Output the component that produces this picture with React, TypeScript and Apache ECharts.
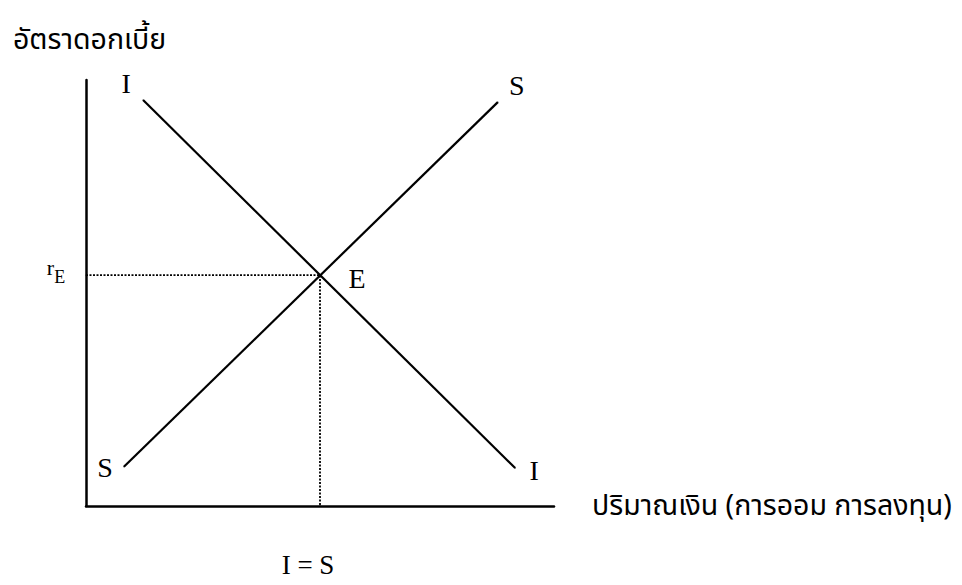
import React, { useEffect, useRef } from "react";
import * as echarts from "echarts";

// Investment (I) and saving (S) schedules: [quantity, interest rate]
const investmentCurve: [number, number][] = [
  [12.2, 95.3],
  [91.7, 8.9],
];
const savingCurve: [number, number][] = [
  [8.1, 9.2],
  [88.0, 94.8],
];
const equilibrium: [number, number] = [50, 54.2];

const yTitle = "อัตราดอกเบี้ย";
const xTitle = "ปริมาณเงิน (การออม การลงทุน)";
const curveLabels = { I: "I", S: "S" };
const eqLabel = "E";
const rateLabel = { r: "r", sub: "E" };
const qtyLabel = "I = S";

const SERIF = "'Liberation Serif', 'Times New Roman', serif";
const THAI = "'Noto Sans Thai', Tahoma, 'Noto Sans', 'DejaVu Sans', sans-serif";

export default function App() {
  const ref = useRef<HTMLDivElement>(null);
  useEffect(() => {
    if (!ref.current) return;
    const chart = echarts.init(ref.current, undefined, { renderer: "svg" });
    const lbl = (text: string, offset: [number, number], size = 28) => ({
      show: true,
      position: "inside",
      formatter: text,
      offset,
      align: "center",
      verticalAlign: "middle",
      fontFamily: SERIF,
      fontSize: size,
      color: "#000",
    });
    const [ex, ey] = equilibrium;
    chart.setOption({
      animation: false,
      backgroundColor: "#fff",
      grid: { left: 86, right: 408, top: 80, bottom: 79 },
      xAxis: {
        type: "value",
        min: 0,
        max: 100,
        axisLine: { show: true, lineStyle: { color: "#000", width: 2.5 } },
        axisTick: { show: false },
        axisLabel: { show: false },
        splitLine: { show: false },
        name: xTitle,
        nameLocation: "end",
        nameGap: 38,
        nameTextStyle: { fontFamily: THAI, fontSize: 28.5, color: "#000", verticalAlign: "middle" },
      },
      yAxis: {
        type: "value",
        min: 0,
        max: 100,
        axisLine: { show: true, lineStyle: { color: "#000", width: 2.5 } },
        axisTick: { show: false },
        axisLabel: { show: false },
        splitLine: { show: false },
      },
      graphic: [
        {
          type: "text",
          left: 13,
          top: 26,
          style: { text: yTitle, fontFamily: THAI, fontSize: 28.5, fill: "#000" },
        },
      ],
      series: [
        {
          type: "line",
          name: "I",
          data: [
            { value: investmentCurve[0], label: lbl(curveLabels.I, [-17, -17]) },
            { value: investmentCurve[1], label: lbl(curveLabels.I, [19, 2]) },
          ],
          symbol: "circle",
          symbolSize: 1,
          showSymbol: true,
          itemStyle: { color: "#000" },
          lineStyle: { color: "#000", width: 2.2 },
        },
        {
          type: "line",
          name: "S",
          data: [
            { value: savingCurve[0], label: lbl(curveLabels.S, [-19, 1]) },
            { value: savingCurve[1], label: lbl(curveLabels.S, [19, -17]) },
          ],
          symbol: "circle",
          symbolSize: 1,
          showSymbol: true,
          itemStyle: { color: "#000" },
          lineStyle: { color: "#000", width: 2.2 },
        },
        {
          type: "line",
          name: "guides",
          data: [
            {
              value: [0, ey],
              label: {
                show: true,
                position: "inside",
                offset: [-30, -3],
                formatter: `{r|${rateLabel.r}}{e|${rateLabel.sub}}`,
                align: "center",
                verticalAlign: "middle",
                rich: {
                  r: { fontFamily: SERIF, fontSize: 22, color: "#000", padding: [0, 0, 9, 0] },
                  e: { fontFamily: SERIF, fontSize: 18, color: "#000", padding: [9, 0, 0, 0] },
                },
              },
            },
            { value: [ex, ey], label: lbl(eqLabel, [37, 3]) },
            { value: [ex, 0], label: lbl(qtyLabel, [-12, 59], 27) },
          ],
          symbol: "circle",
          symbolSize: 1,
          showSymbol: true,
          itemStyle: { color: "#000" },
          lineStyle: { color: "#000", width: 1.8, type: [2, 1.5] },
          z: 1,
        },
      ],
    });
    return () => chart.dispose();
  }, []);
  return (
    <div
      ref={ref}
      style={{ position: "absolute", left: 0, top: 0, width: 962, height: 585 }}
    />
  );
}
